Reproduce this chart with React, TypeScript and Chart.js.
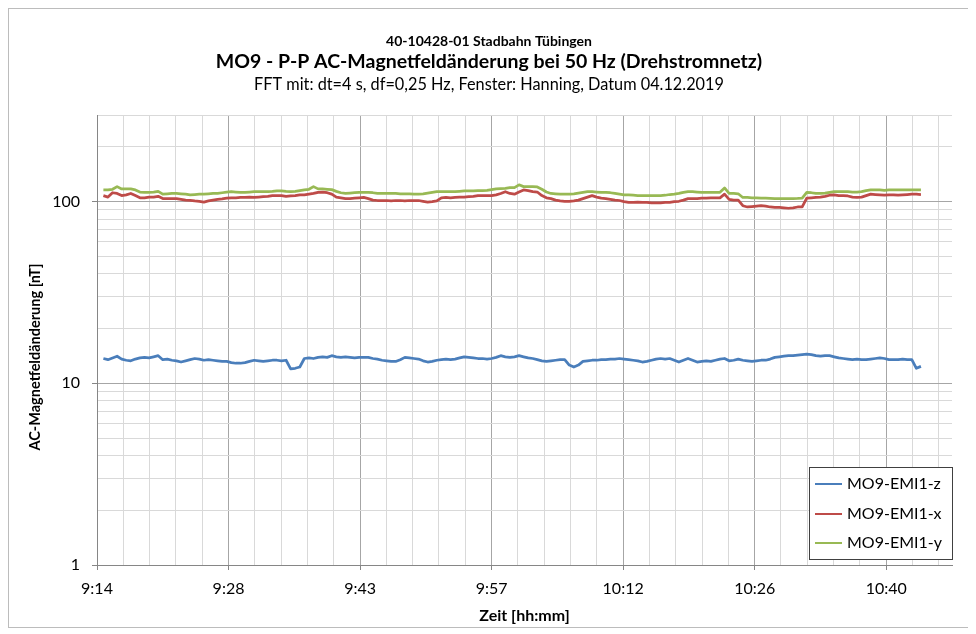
import React, { useEffect, useRef } from 'react';
import { Chart, registerables } from 'chart.js';

Chart.register(...registerables);

const TITLE_LINES = [
  '40-10428-01 Stadbahn Tübingen',
  'MO9 - P-P AC-Magnetfeldänderung bei 50 Hz (Drehstromnetz)',
  'FFT mit: dt=4 s, df=0,25 Hz, Fenster: Hanning, Datum 04.12.2019',
];
const X_TITLE = 'Zeit [hh:mm]';
const Y_TITLE = 'AC-Magnetfeldänderung [nT]';
const SERIES_LABELS = ['MO9-EMI1-z', 'MO9-EMI1-x', 'MO9-EMI1-y'];
const SERIES_COLORS = ['#4A7EBB', '#BE4B48', '#98B954'];

// time axis in minutes after midnight
const X_MIN = 554.4; // 9:14:24
const X_MAX = 648; // 10:48
const X_MINOR_STEP = 2.88;
const X_TICKS = Array.from({ length: 33 }, (_, k) => X_MIN + k * X_MINOR_STEP);
const Y_TICKS = [1, 2, 3, 4, 5, 6, 7, 8, 9, 10, 20, 30, 40, 50, 60, 70, 80, 90, 100, 200, 300];
const Y_LABELED = [1, 10, 100];

// sampling times
const SAMPLE_START = 555.1;
const SAMPLE_STEP = 0.5;

const Z_VALUES = [
  13.7, 13.5, 13.8, 14.1, 13.6, 13.4, 13.3, 13.6, 13.8, 13.9,
  13.8, 14.0, 14.2, 13.5, 13.6, 13.4, 13.3, 13.1, 13.3, 13.5,
  13.7, 13.6, 13.4, 13.5, 13.4, 13.3, 13.2, 13.2, 13.0, 12.9,
  12.9, 13.0, 13.2, 13.4, 13.3, 13.2, 13.3, 13.4, 13.4, 13.3,
  13.4, 12.0, 12.1, 12.3, 13.7, 13.8, 13.7, 13.9, 14.0, 13.9,
  14.2, 14.0, 13.9, 14.0, 13.9, 13.8, 13.9, 13.9, 13.9, 13.7,
  13.6, 13.4, 13.3, 13.2, 13.2, 13.5, 13.9, 13.8, 13.7, 13.6,
  13.3, 13.1, 13.2, 13.4, 13.5, 13.6, 13.5, 13.6, 13.8, 14.0,
  13.9, 13.8, 13.7, 13.7, 13.6, 13.7, 13.9, 14.2, 14.0, 13.9,
  14.0, 14.2, 14.0, 13.8, 13.7, 13.5, 13.3, 13.2, 13.3, 13.4,
  13.5, 13.5, 12.6, 12.3, 12.6, 13.2, 13.3, 13.4, 13.4, 13.5,
  13.5, 13.6, 13.6, 13.7, 13.6, 13.5, 13.4, 13.3, 13.1, 13.2,
  13.4, 13.6, 13.7, 13.6, 13.7, 13.4, 13.1, 13.4, 13.7, 13.4,
  13.1, 13.2, 13.3, 13.2, 13.4, 13.6, 13.7, 13.3, 13.4, 13.6,
  13.4, 13.3, 13.2, 13.3, 13.4, 13.4, 13.6, 13.9, 14.0, 14.1,
  14.2, 14.2, 14.3, 14.4, 14.5, 14.4, 14.2, 14.1, 14.2, 14.2,
  14.0, 13.8, 13.7, 13.6, 13.5, 13.6, 13.5, 13.5, 13.6, 13.7,
  13.8, 13.7, 13.5, 13.5, 13.5, 13.6, 13.5, 13.5, 12.1, 12.4,
];

const X_VALUES = [
  108, 106, 112, 111, 108, 109, 111, 108, 105, 105,
  106, 106, 107, 104, 104, 104, 104, 103, 102, 101.8,
  101, 100.5, 99.5, 101, 102, 103, 103.5, 104.5, 105, 105,
  105.5, 105.5, 106, 105.5, 106, 106.5, 107, 108, 108, 108,
  107, 107.5, 108, 109, 109, 110, 111, 112.6, 113, 112,
  110, 106, 105, 104, 104, 104.5, 105, 105.5, 104, 102,
  101.5, 101.5, 101.5, 101, 101.5, 101.5, 101, 101.5, 101.5, 101.5,
  100.5, 99.5, 100, 101, 105, 105.5, 105, 105.5, 106, 106,
  106.5, 107, 108, 108, 108, 108, 109, 111, 113.5, 111,
  110, 113, 116, 115, 113.5, 113, 108, 105, 104, 102,
  101, 100.5, 100.5, 101, 102, 104, 106, 108, 106, 104.5,
  104, 103, 102, 101.5, 100, 99, 99, 99.5, 99, 99,
  98.5, 98.5, 98.5, 99, 99, 100, 100.5, 102, 104, 104,
  104, 104.5, 104.5, 105, 105, 105, 110, 103, 102, 102,
  95, 93.5, 94, 94.5, 95, 94.5, 93.5, 93, 93, 92.5,
  92, 92.5, 93.5, 93.5, 104.6, 105, 105.5, 106, 107, 108.5,
  109, 108, 108, 107.5, 106, 105.5, 106, 108, 110, 109.5,
  109, 108.5, 109, 109, 108.5, 109, 109.5, 110, 110, 109.5,
];

const Y_VALUES = [
  116, 116, 117, 121, 117.5, 117.5, 117.5, 116, 113, 112.6,
  112.6, 113, 114, 110, 110.5, 111, 111, 110.5, 110, 109,
  109.5, 110, 110, 110.5, 111, 111, 112, 113, 113.5, 113,
  112.6, 112.6, 113, 113.5, 113.5, 113.5, 113.5, 114, 114.8, 114.8,
  114, 113.5, 114, 115, 116, 117, 121, 117.6, 117.6, 117,
  116.5, 114, 112, 111, 111.5, 112, 112.6, 112.5, 112.6, 112,
  111, 111, 111, 111, 111, 110.5, 110.5, 110.5, 110, 110,
  110.5, 111.5, 112.5, 113.5, 113.5, 113.5, 113.5, 113.5, 114, 114.5,
  114.8, 114.8, 115, 115, 115.5, 116.5, 117.6, 118, 118.5, 119.5,
  119.5, 123.8, 121, 121, 121, 120.5, 117, 113, 111, 110.5,
  110, 110, 110, 110.5, 111.5, 112.5, 113.5, 113.5, 113, 112.6,
  112.6, 112, 111, 110, 109, 109, 108.5, 108, 108, 108,
  108, 108, 108, 108.5, 109.5, 110, 111, 112.5, 113.5, 113.5,
  113, 112.5, 112.5, 112.6, 112.6, 112.6, 119, 111, 111, 110.5,
  105.5, 105.5, 105, 105, 104.6, 104.5, 104.2, 104, 104, 104,
  104, 104, 104.2, 104.6, 112.6, 112, 111, 111, 111.5, 112.5,
  113.5, 113.5, 113.5, 113.5, 113, 113, 113.5, 115, 116, 116,
  116, 115.5, 116, 116, 116, 116, 116, 116, 116, 116,
];

const SERIES_VALUES = [Z_VALUES, X_VALUES, Y_VALUES];

const FONT = "Lato, 'Open Sans', sans-serif";
const GRID_MAJOR = '#a6a6a6';
const GRID_MINOR = '#d9d9d9';
const AXIS_COLOR = '#868686';

function fmtTime(m: number): string {
  const total = Math.floor(m + 1e-6);
  const h = Math.floor(total / 60);
  const mm = total % 60;
  return `${h}:${mm < 10 ? '0' : ''}${mm}`;
}

const textPlugin = {
  id: 'customTexts',
  afterDraw(chart: any) {
    const { ctx, chartArea } = chart;
    ctx.save();
    ctx.fillStyle = '#000';
    ctx.textAlign = 'center';
    ctx.textBaseline = 'middle';
    const cx = chart.width / 2;
    ctx.font = `bold 14px ${FONT}`;
    ctx.fillText(TITLE_LINES[0], cx, 32);
    ctx.font = `bold 19.5px ${FONT}`;
    ctx.fillText(TITLE_LINES[1], cx, 53);
    ctx.font = `16.3px ${FONT}`;
    ctx.fillText(TITLE_LINES[2], cx, 76);

    // axis titles
    ctx.font = `bold 16px ${FONT}`;
    ctx.fillText(X_TITLE, (chartArea.left + chartArea.right) / 2, 607);
    ctx.save();
    ctx.translate(26, 348);
    ctx.rotate(-Math.PI / 2);
    ctx.font = `bold 14.5px ${FONT}`;
    ctx.fillText(Y_TITLE, 0, 0);
    ctx.restore();

    // legend
    const bx = 800, by = 458, bw = 144, bh = 93;
    ctx.fillStyle = '#ffffff';
    ctx.fillRect(bx, by, bw, bh);
    ctx.strokeStyle = '#404040';
    ctx.lineWidth = 1;
    ctx.strokeRect(bx + 0.5, by + 0.5, bw - 1, bh - 1);
    const rows = [475, 505, 534];
    chart.data.datasets.forEach((ds: any, i: number) => {
      const y = rows[i];
      ctx.strokeStyle = ds.borderColor;
      ctx.lineWidth = 2;
      ctx.beginPath();
      ctx.moveTo(806, y);
      ctx.lineTo(833, y);
      ctx.stroke();
      ctx.fillStyle = '#000';
      ctx.textAlign = 'left';
      ctx.font = `16px ${FONT}`;
      ctx.fillText(ds.label, 838, y);
    });
    ctx.restore();
  },
};

export default function App() {
  const canvasRef = useRef<HTMLCanvasElement | null>(null);

  useEffect(() => {
    const canvas = canvasRef.current;
    if (!canvas) return;
    const datasets = SERIES_LABELS.map((label, s) => ({
      label,
      data: SERIES_VALUES[s].map((v, i) => ({ x: SAMPLE_START + i * SAMPLE_STEP, y: v })),
      borderColor: SERIES_COLORS[s],
      backgroundColor: SERIES_COLORS[s],
      borderWidth: 2.75,
      pointRadius: 0,
      tension: 0,
      borderJoinStyle: 'round' as const,
    }));

    const chart = new Chart(canvas, {
      type: 'line',
      data: { datasets },
      options: {
        animation: false,
        responsive: false,
        devicePixelRatio: 1,
        layout: { padding: { top: 106, right: 17, left: 0, bottom: 0 } },
        plugins: {
          legend: { display: false },
          title: { display: false },
          tooltip: { enabled: false },
        },
        scales: {
          x: {
            type: 'linear',
            min: X_MIN,
            max: X_MAX,
            afterBuildTicks: (scale: any) => {
              scale.ticks = X_TICKS.map((v) => ({ value: v }));
            },
            afterFit: (scale: any) => {
              scale.height = 62;
            },
            ticks: {
              autoSkip: false,
              maxRotation: 0,
              minRotation: 0,
              padding: 9,
              color: '#000',
              font: { family: FONT, size: 16 },
              callback: (value: any, index: number) => (index % 5 === 0 ? fmtTime(Number(value)) : ''),
            },
            grid: {
              color: (c: any) => (c.index % 5 === 0 ? GRID_MAJOR : GRID_MINOR),
              tickColor: (c: any) => (c.index % 5 === 0 ? AXIS_COLOR : 'rgba(0,0,0,0)'),
              tickLength: 5,
              lineWidth: 1,
            },
            border: { color: AXIS_COLOR, width: 1 },
          },
          y: {
            type: 'logarithmic',
            min: 1,
            max: 300,
            afterBuildTicks: (scale: any) => {
              scale.ticks = Y_TICKS.map((v) => ({ value: v }));
            },
            afterFit: (scale: any) => {
              scale.width = 88;
            },
            ticks: {
              autoSkip: false,
              padding: 12,
              color: '#000',
              font: { family: FONT, size: 16 },
              callback: (value: any) => (Y_LABELED.includes(Number(value)) ? String(value) : ''),
            },
            grid: {
              color: (c: any) => (Y_LABELED.includes(c.tick?.value) ? GRID_MAJOR : GRID_MINOR),
              tickColor: (c: any) => (Y_LABELED.includes(c.tick?.value) ? AXIS_COLOR : 'rgba(0,0,0,0)'),
              tickLength: 5,
              lineWidth: 1,
            },
            border: { color: AXIS_COLOR, width: 1 },
          },
        },
      },
      plugins: [textPlugin],
    });
    return () => chart.destroy();
  }, []);

  return (
    <div
      style={{
        width: 960,
        height: 618,
        border: '1px solid #bcbcbc',
        background: '#fff',
      }}
    >
      <canvas ref={canvasRef} width={960} height={618} style={{ display: 'block' }} />
    </div>
  );
}
